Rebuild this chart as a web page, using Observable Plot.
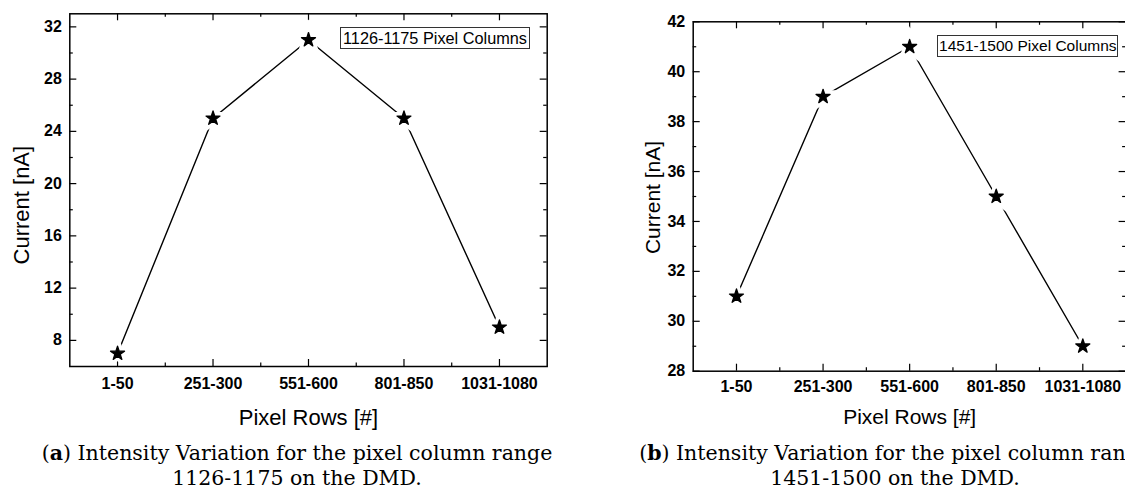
<!DOCTYPE html>
<html><head><meta charset="utf-8">
<script src="https://cdn.jsdelivr.net/npm/d3@7"></script>
<script src="https://cdn.jsdelivr.net/npm/@observablehq/plot@0.6"></script>
<style>
html,body{margin:0;padding:0;background:#fff;overflow:hidden;}
#root{position:relative;width:1125px;height:503px;overflow:hidden;}
.panel{position:absolute;top:0;}
.legend{position:absolute;border:1px solid #333;font-family:"Liberation Sans",Arial,sans-serif;background:#fff;white-space:nowrap;box-sizing:border-box;display:flex;align-items:center;justify-content:center;color:#000;}
.caption{position:absolute;width:640px;font-family:"DejaVu Serif","Liberation Serif",serif;font-size:20.5px;text-align:center;line-height:25px;white-space:nowrap;color:#000;}
</style></head>
<body><div id="root"></div>
<script>
const categories = ["1-50", "251-300", "551-600", "801-850", "1031-1080"];
const currentA = [7, 25, 31, 25, 9];
const currentB = [31, 39, 41, 35, 29];
const yTicksA = [8, 12, 16, 20, 24, 28, 32];
const yMinorA = [10, 14, 18, 22, 26, 30];
const yTicksB = [28, 30, 32, 34, 36, 38, 40, 42];
const yMinorB = [29, 31, 33, 35, 37, 39, 41];
const xMinor = [0.5, 1.5, 2.5, 3.5];
const legendA = "1126-1175 Pixel Columns";
const legendB = "1451-1500 Pixel Columns";
const xLabel = "Pixel Rows [#]";
const yLabel = "Current [nA]";

function panel(o) {
  const fw = o.W - o.ml - o.mr, fh = o.H - o.mt - o.mb;
  const idx = categories.map((c, i) => i);
  const rows = categories.map((c, i) => ({i, c, v: o.values[i]}));
  const major = 7, minor = 3.5, tw = 1.2;
  return Plot.plot({
    width: o.W, height: o.H,
    marginTop: o.mt, marginBottom: o.mb, marginLeft: o.ml, marginRight: o.mr,
    x: {type: "linear", domain: [-0.5, categories.length - 0.5]},
    y: {domain: o.yDomain},
    style: {fontFamily: "'Liberation Sans', Arial, sans-serif", overflow: "visible", color: "black", background: "transparent"},
    marks: [
      Plot.axisX(idx, {anchor: "bottom", tickSize: 0, tickPadding: o.xPad, tickFormat: i => categories[i], fontSize: 16, fontWeight: "bold", label: null}),
      Plot.axisY(o.yTicks, {anchor: "left", tickSize: 0, tickPadding: 8, fontSize: 16, fontWeight: "bold", label: null}),
      Plot.ruleX(idx, {x: d => d, insetTop: fh - major, stroke: "black", strokeWidth: tw}),
      Plot.ruleX(idx, {x: d => d, insetBottom: fh - major, stroke: "black", strokeWidth: tw}),
      Plot.ruleX(xMinor, {x: d => d, insetTop: fh - minor, stroke: "black", strokeWidth: tw}),
      Plot.ruleX(xMinor, {x: d => d, insetBottom: fh - minor, stroke: "black", strokeWidth: tw}),
      Plot.ruleY(o.yTicks, {y: d => d, insetRight: fw - major, stroke: "black", strokeWidth: tw}),
      Plot.ruleY(o.yTicks, {y: d => d, insetLeft: fw - major, stroke: "black", strokeWidth: tw}),
      Plot.ruleY(o.yMinor, {y: d => d, insetRight: fw - minor, stroke: "black", strokeWidth: tw}),
      Plot.ruleY(o.yMinor, {y: d => d, insetLeft: fw - minor, stroke: "black", strokeWidth: tw}),
      Plot.line(rows, {x: "i", y: "v", stroke: "black", strokeWidth: 1.4}),
      Plot.dot(rows, {x: "i", y: "v", symbol: "star", r: 4.6, fill: "white", stroke: "white", strokeWidth: 8}),
      Plot.dot(rows, {x: "i", y: "v", symbol: "star", r: 4.4, fill: "black", stroke: "black", strokeWidth: 1.3, strokeLinejoin: "round"}),
      Plot.frame({stroke: "black", strokeWidth: 1.5}),
      Plot.text([yLabel], {frameAnchor: "left", textAnchor: "middle", lineAnchor: "middle", rotate: -90, dx: o.yLabDx, dy: o.yLabDy, fontSize: o.labSize, fill: "black"}),
      Plot.text([xLabel], {frameAnchor: "bottom", textAnchor: "middle", lineAnchor: "middle", dy: o.xLabDy, fontSize: o.labSize, fill: "black"})
    ]
  });
}

const root = document.getElementById("root");

const pa = panel({values: currentA, yDomain: [6, 33], yTicks: yTicksA, yMinor: yMinorA,
  W: 560, H: 440, mt: 13.3, mb: 74, ml: 69.3, mr: 13.3, xPad: 11,
  yLabDx: -47.5, yLabDy: 15, xLabDy: 51, labSize: 22});
pa.classList.add("panel"); pa.style.left = "0px";
root.appendChild(pa);

const pb = panel({values: currentB, yDomain: [28, 42], yTicks: yTicksB, yMinor: yMinorB,
  W: 560, H: 440, mt: 21.3, mb: 69.3, ml: 112.7, mr: 14.4, xPad: 9.5,
  yLabDx: -40, yLabDy: 1, xLabDy: 46.3, labSize: 21});
pb.classList.add("panel"); pb.style.left = "580px";
root.appendChild(pb);

function legend(text, left, top, w, h, fs) {
  const d = document.createElement("div");
  d.className = "legend";
  d.textContent = text;
  Object.assign(d.style, {left: left + "px", top: top + "px", width: w + "px", height: h + "px", fontSize: fs + "px"});
  root.appendChild(d);
}
legend(legendA, 340, 27.3, 190, 22, 16.3);
legend(legendB, 937.3, 35, 181, 21.7, 15.5);

function caption(letter, l1, l2, center) {
  const d = document.createElement("div");
  d.className = "caption";
  d.style.left = (center - 320) + "px";
  d.style.top = "441px";
  const b = document.createElement("b");
  b.textContent = letter;
  d.append("(", b, ") " + l1);
  d.appendChild(document.createElement("br"));
  d.append(l2);
  root.appendChild(d);
}
caption("a", "Intensity Variation for the pixel column range", "1126-1175 on the DMD.", 297);
caption("b", "Intensity Variation for the pixel column range", "1451-1500 on the DMD.", 895);
</script>
</body></html>
